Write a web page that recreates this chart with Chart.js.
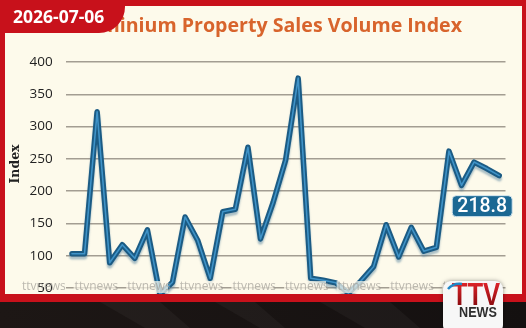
<!DOCTYPE html>
<html>
<head>
<meta charset="utf-8">
<script src="https://cdn.jsdelivr.net/npm/chart.js@4.4.1/dist/chart.umd.min.js"></script>
<style>
   html, body { margin: 0; padding: 0; background: #1a1513; }
   canvas { display: block; }
</style>
</head>
<body>
<canvas id="salesChart" width="526" height="328"></canvas>
<script>
// data
const periods = ['1', '2', '3', '4', '5', '6', '7', '8', '9', '10', '11', '12', '13', '14', '15', '16', '17', '18',
   '19', '20', '21', '22', '23', '24', '25', '26', '27', '28', '29', '30', '31', '32', '33', '34', '35'];
const indexValues = [103, 103, 323, 89, 117, 96, 140, 40, 59, 160, 124, 65, 168, 172, 268, 126, 182, 248,
   375, 65, 62, 58, 42, 61, 83, 148, 98, 144, 107, 113, 262, 209, 245, 235, 224];
const yTicks = [50, 100, 150, 200, 250, 300, 350, 400];
const latestLabel = '218.8';
const dateText = '2026-07-06';
const titleText = 'Condominium Property Sales Volume Index';
const yTitle = 'Index';
const watermark = 'ttvnews';

const cream = '#fdfaeb';
const red = '#c8111b';

function roundRect(c, x, y, w, h, r){
   c.beginPath();
   c.moveTo(x + r, y);
   c.arcTo(x + w, y, x + w, y + h, r);
   c.arcTo(x + w, y + h, x, y + h, r);
   c.arcTo(x, y + h, x, y, r);
   c.arcTo(x, y, x + w, y, r);
   c.closePath();
}

const decorPlugin = {
   id: 'decor',
   beforeDraw(chart){
      const c = chart.ctx;
      c.save();
      c.fillStyle = cream;
      c.fillRect(0, 0, chart.width, chart.height);
      // y axis title
      c.translate(16, 164);
      c.rotate(-Math.PI / 2);
      c.fillStyle = '#222';
      c.font = 'bold 12.5px "DejaVu Serif"';
      c.textAlign = 'center';
      c.textBaseline = 'middle';
      c.fillText(yTitle, 0, 0);
      c.restore();
   },
   beforeDatasetDraw(chart, args){
      if(args.index === 0){
         const c = chart.ctx;
         c.save();
         c.shadowColor = 'rgba(70,120,150,0.45)';
         c.shadowOffsetY = 3;
         c.shadowBlur = 2;
      }
   },
   afterDatasetDraw(chart, args){
      if(args.index === 0){
         chart.ctx.restore();
      }
   },
   afterDraw(chart){
      const c = chart.ctx;
      const W = chart.width, H = chart.height;
      c.save();

      // watermarks
      c.font = '12px "Open Sans"';
      c.textBaseline = 'middle';
      c.textAlign = 'left';
      for(let i = 0; i < 9; i++){
         const x = 22 + i * 52.6;
         if(i > 0){
            c.fillStyle = 'rgba(253,250,235,0.7)';
            c.fillRect(x - 1, 281, 42, 12);
         }
         c.fillStyle = 'rgba(160,156,150,0.7)';
         c.fillText(watermark, x, 287);
      }

      // red frame
      c.fillStyle = red;
      c.fillRect(0, 0, W, 6);
      c.fillRect(0, 0, 5, 302);
      c.fillRect(W - 4, 0, 4, 302);
      c.fillRect(0, 294, W, 8);

      // dark footer
      const g = c.createLinearGradient(0, 302, W, 328);
      g.addColorStop(0, '#1d1715');
      g.addColorStop(1, '#141010');
      c.fillStyle = g;
      c.fillRect(0, 302, W, H - 302);
      c.fillStyle = 'rgba(255,255,255,0.035)';
      [[100, 160], [215, 255], [320, 390]].forEach(s => {
         c.beginPath();
         c.moveTo(s[0], 302);
         c.lineTo(s[1], 302);
         c.lineTo(s[1] + 30, 328);
         c.lineTo(s[0] + 45, 328);
         c.closePath();
         c.fill();
      });

      // title
      c.fillStyle = '#d8642c';
      c.font = 'bold 19.6px "Open Sans"';
      c.textAlign = 'right';
      c.textBaseline = 'alphabetic';
      c.fillText(titleText, 462, 32);

      // date tab
      c.fillStyle = red;
      c.beginPath();
      c.moveTo(0, 0);
      c.lineTo(125, 0);
      c.lineTo(125, 7);
      c.arcTo(125, 33, 99, 33, 26);
      c.lineTo(0, 33);
      c.closePath();
      c.fill();
      c.fillStyle = '#fff';
      c.font = 'bold 17.5px "Open Sans"';
      c.textAlign = 'left';
      c.fillText(dateText, 13, 23);

      // latest value label
      const meta = chart.getDatasetMeta(0);
      const last = meta.data[meta.data.length - 1];
      const bx = last.x - 47, by = last.y + 20;
      roundRect(c, bx, by, 60, 21, 4);
      c.fillStyle = '#1b6893';
      c.fill();
      c.strokeStyle = '#d6e6ee';
      c.lineWidth = 1;
      c.stroke();
      c.fillStyle = '#fff';
      c.font = '500 19.5px Roboto';
      c.textAlign = 'center';
      c.textBaseline = 'middle';
      c.fillText(latestLabel, bx + 30, by + 11);

      // logo
      c.shadowColor = 'rgba(0,0,0,0.4)';
      c.shadowBlur = 4;
      roundRect(c, 443, 281, 60, 52, 8);
      c.fillStyle = '#f7f7f7';
      c.fill();
      c.shadowColor = 'transparent';
      c.save();
      c.translate(476, 305);
      c.scale(0.8, 1);
      const rg = c.createLinearGradient(0, -24, 0, 0);
      rg.addColorStop(0, '#e3262c');
      rg.addColorStop(1, '#8d0b10');
      c.fillStyle = rg;
      c.font = 'bold 32px "Liberation Sans"';
      c.textAlign = 'center';
      c.textBaseline = 'alphabetic';
      c.fillText('TTV', 0, 0);
      c.restore();
      c.strokeStyle = '#1f86c6';
      c.lineWidth = 2.5;
      c.beginPath();
      c.moveTo(448, 289);
      c.quadraticCurveTo(453, 283, 462, 284);
      c.stroke();
      c.fillStyle = '#2d2d2d';
      c.save();
      c.translate(478, 317);
      c.scale(0.9, 1);
      c.font = 'bold 14px "Liberation Sans"';
      c.textAlign = 'center';
      c.textBaseline = 'alphabetic';
      c.fillText('NEWS', 0, 0);
      c.restore();

      c.restore();
   }
};

const salesChartE = document.getElementById('salesChart').getContext('2d');
const salesChart = new Chart(salesChartE, {
   type: 'line',
   data: {
      labels: periods,
      datasets: [
         {
            label: 'Index',
            data: indexValues,
            borderColor: '#1b5b84',
            borderWidth: 5.5,
            borderJoinStyle: 'round',
            borderCapStyle: 'round',
            pointRadius: 0,
            tension: 0,
            clip: false,
            order: 2
         },
         {
            label: 'Index inner',
            data: indexValues,
            borderColor: '#3f93c8',
            borderWidth: 1.6,
            borderJoinStyle: 'round',
            borderCapStyle: 'round',
            pointRadius: 0,
            tension: 0,
            clip: false,
            order: 1
         }
      ]
   },
   options: {
      responsive: false,
      devicePixelRatio: 1,
      animation: false,
      layout: {
         padding: { top: 62, bottom: 40, left: 0, right: 20.5 }
      },
      plugins: {
         legend: { display: false },
         title: { display: false },
         tooltip: { enabled: false }
      },
      scales: {
         x: {
            display: false,
            offset: true
         },
         y: {
            min: 50,
            max: 400,
            afterBuildTicks: axis => {
               axis.ticks = yTicks.map(v => ({ value: v }));
            },
            afterFit: axis => {
               axis.width = 65.7;
            },
            border: { display: false },
            grid: {
               color: '#a39d92',
               lineWidth: 1.5,
               drawTicks: false
            },
            ticks: {
               padding: 13,
               color: '#222',
               font: { family: '"Open Sans"', size: 13.5 }
            }
         }
      }
   },
   plugins: [decorPlugin]
});
</script>
</body>
</html>
